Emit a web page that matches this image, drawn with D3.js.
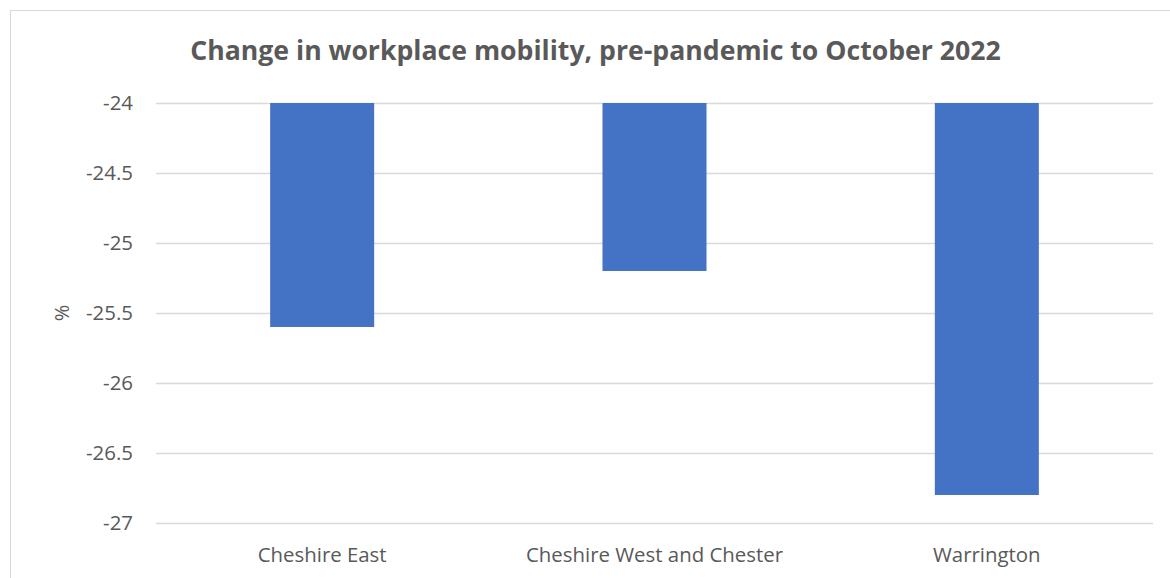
<!DOCTYPE html>
<html><head><meta charset="utf-8">
<script src="https://cdn.jsdelivr.net/npm/d3@7"></script>
<style>body{margin:0;background:#fff}svg{display:block}text{font-family:"Open Sans","Liberation Sans",sans-serif}</style>
</head><body>
<svg id="c" width="1170" height="578"></svg>
<script>
const categories = ["Cheshire East", "Cheshire West and Chester", "Warrington"];
const values = [-25.6, -25.2, -26.8];
const yTicks = [-24, -24.5, -25, -25.5, -26, -26.5, -27];
const title = "Change in workplace mobility, pre-pandemic to October 2022";
const yLabel = "%";

const svg = d3.select("#c");
const m = {left:156, right:1153, top:103, bottom:523};
svg.append("rect").attr("x",10.5).attr("y",10.5).attr("width",1170).attr("height",600)
  .attr("fill","#fff").attr("stroke","#D9D9D9").attr("stroke-width",1);

const x = d3.scaleBand().domain(categories).range([m.left, m.right]).paddingInner(0.687).paddingOuter(0.3435);
const y = d3.scaleLinear().domain([-27, -24]).range([m.bottom, m.top]);

svg.append("g").selectAll("line").data(yTicks).join("line")
  .attr("x1", m.left).attr("x2", m.right)
  .attr("y1", d=>Math.round(y(d))+0.5).attr("y2", d=>Math.round(y(d))+0.5)
  .attr("stroke","#D9D9D9").attr("stroke-width",1.3);

svg.append("g").selectAll("rect").data(values).join("rect")
  .attr("x",(d,i)=>x(categories[i])).attr("width",x.bandwidth())
  .attr("y", y(-24)).attr("height", d=>y(d)-y(-24))
  .attr("fill","#4472C4");

function fit(sel, sample, target, base){
  const n = sel.filter(function(){return this.textContent===sample;}).node();
  const w = n.getComputedTextLength();
  sel.style("font-size", (base*target/w).toFixed(2)+"px");
}

const yAxis = d3.axisLeft(y).tickValues(yTicks).tickSize(0).tickPadding(0).tickFormat(d=>String(d));
const ga = svg.append("g").attr("transform",`translate(133,0)`).call(yAxis);
ga.select(".domain").remove();
const yt = ga.selectAll("text").attr("fill","#595959").style("font-size","19px").style("font-family",'"Open Sans",sans-serif');
fit(yt, "-25.5", 47, 19);

const xAxis = d3.axisBottom(x).tickSize(0).tickPadding(0);
const gx = svg.append("g").attr("transform",`translate(0,548)`).call(xAxis);
gx.select(".domain").remove();
const xt = gx.selectAll("text").attr("fill","#595959").style("font-size","18px").style("font-family",'"Open Sans",sans-serif');
fit(xt, "Cheshire East", 129, 18);

svg.append("text").attr("transform","translate(62,313) rotate(-90)").attr("text-anchor","middle")
  .attr("dy","0.35em").attr("fill","#595959").style("font-size","20px").text(yLabel);

const t = svg.append("text").attr("x",595.5).attr("y",60).attr("text-anchor","middle")
  .attr("fill","#595959").style("font-size","26px").style("font-weight","bold").text(title);
const tw = t.node().getComputedTextLength();
t.style("font-size", (26*811/tw).toFixed(2)+"px");
</script>
</body></html>
